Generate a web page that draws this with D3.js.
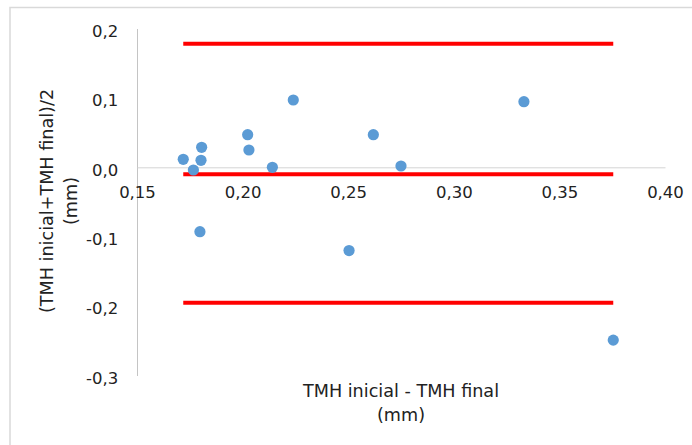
<!DOCTYPE html>
<html>
<head>
<meta charset="utf-8">
<script src="https://cdn.jsdelivr.net/npm/d3@7"></script>
<style>
  html, body { margin: 0; padding: 0; background: #fff; }
  svg { display: block; }
</style>
</head>
<body>
<svg id="chart" width="692" height="445"></svg>
<script>
// Bland–Altman style scatter: difference vs mean of TMH measurements
const xValues = [0.1719, 0.1767, 0.1803, 0.1806, 0.1798, 0.2024, 0.2030,
                 0.2141, 0.2240, 0.2504, 0.2619, 0.2750, 0.3332, 0.3755];
const yValues = [0.0115, -0.0039, 0.0101, 0.0288, -0.0928, 0.0470, 0.0249,
                 0.0000, 0.0970, -0.1200, 0.0470, 0.0019, 0.0945, -0.2490];

// Mean difference and limits of agreement
const limitValues = [0.178, -0.010, -0.195];

const xTicks = [0.15, 0.20, 0.25, 0.30, 0.35, 0.40];
const yTicks = [-0.3, -0.2, -0.1, 0.0, 0.1, 0.2];

const xTitleLines = ["TMH inicial - TMH final", "(mm)"];
const yTitleLines = ["(TMH inicial+TMH final)/2", "(mm)"];

const FONT = "'DejaVu Sans', Verdana, sans-serif";
const TEXT_COLOR = "#222";

const locale = d3.formatLocale({
  decimal: ",", thousands: ".", grouping: [3], currency: ["", "€"], minus: "-"
});

const svg = d3.select("#chart");

// outer frame
svg.append("rect")
  .attr("x", 10).attr("y", 7.5)
  .attr("width", 720).attr("height", 460)
  .attr("fill", "none")
  .attr("stroke", "#d9d9d9")
  .attr("stroke-width", 1.5);

const x = d3.scaleLinear().domain([0.15, 0.40]).range([137, 665]);
const y = d3.scaleLinear().domain([-0.3, 0.2]).range([375.5, 28.5]);

// y axis
const yAxis = svg.append("g")
  .attr("transform", `translate(${x(0.15)},0)`)
  .call(d3.axisLeft(y).tickValues(yTicks).tickSize(0).tickSizeOuter(0)
    .tickFormat(locale.format(".1f")));
yAxis.select(".domain").attr("stroke", "#c4c4c4").attr("stroke-width", 1);
yAxis.selectAll("text")
  .attr("x", -18.7).attr("y", 7.8).attr("dy", 0)
  .attr("text-anchor", "end")
  .attr("font-family", FONT).attr("font-size", 16.5)
  .attr("fill", TEXT_COLOR);

// x axis crossing at zero
const xAxis = svg.append("g")
  .attr("transform", `translate(0,${y(0)})`)
  .call(d3.axisBottom(x).tickValues(xTicks).tickSize(0).tickSizeOuter(0)
    .tickFormat(locale.format(".2f")));
xAxis.select(".domain").attr("stroke", "#d4d4d4").attr("stroke-width", 1);
xAxis.selectAll("text")
  .attr("y", 31.2).attr("dy", 0)
  .attr("font-family", FONT).attr("font-size", 16.5)
  .attr("fill", TEXT_COLOR);

// limit lines spanning the data range
const [xMin, xMax] = d3.extent(xValues);
svg.append("g").selectAll("line")
  .data(limitValues)
  .join("line")
  .attr("x1", x(xMin)).attr("x2", x(xMax))
  .attr("y1", d => y(d)).attr("y2", d => y(d))
  .attr("stroke", "#ff0000")
  .attr("stroke-width", 4);

// data points
svg.append("g").selectAll("circle")
  .data(xValues.map((v, i) => [v, yValues[i]]))
  .join("circle")
  .attr("cx", d => x(d[0]))
  .attr("cy", d => y(d[1]))
  .attr("r", 5.6)
  .attr("fill", "#5b9bd5");

// x axis title
svg.append("g").selectAll("text")
  .data(xTitleLines)
  .join("text")
  .attr("x", (x.range()[0] + x.range()[1]) / 2)
  .attr("y", (d, i) => 396.7 + i * 24)
  .attr("text-anchor", "middle")
  .attr("font-family", FONT).attr("font-size", 17.6)
  .attr("fill", TEXT_COLOR)
  .text(d => d);

// y axis title, rotated
svg.append("g")
  .attr("transform", "translate(0,201) rotate(-90)")
  .selectAll("text")
  .data(yTitleLines)
  .join("text")
  .attr("x", 0)
  .attr("y", (d, i) => 53 + i * 24.3)
  .attr("text-anchor", "middle")
  .attr("font-family", FONT).attr("font-size", 17.6)
  .attr("fill", TEXT_COLOR)
  .text(d => d);
</script>
</body>
</html>
